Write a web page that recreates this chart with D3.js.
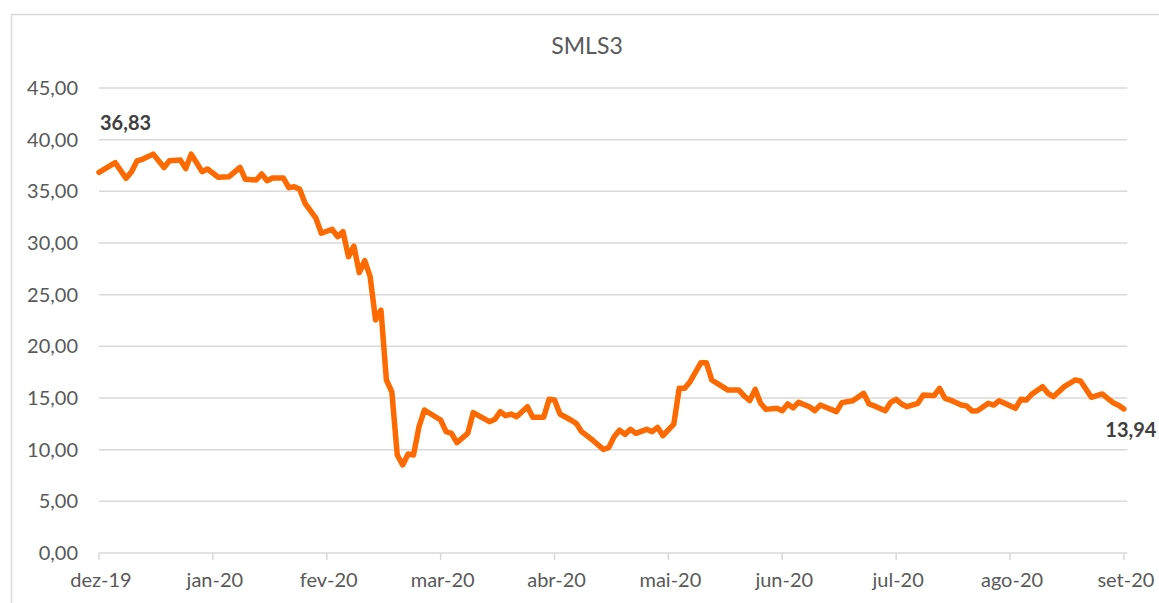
<!DOCTYPE html>
<html>
<head>
<meta charset="utf-8">
<script src="https://cdn.jsdelivr.net/npm/d3@7"></script>
<style>
  body { margin: 0; background: #fff; }
  text { font-family: Lato, "Open Sans", sans-serif; }
</style>
</head>
<body>
<div id="chart"></div>
<script>
// Chart data
const title = "SMLS3";
const monthLabels = ["dez-19", "jan-20", "fev-20", "mar-20", "abr-20", "mai-20", "jun-20", "jul-20", "ago-20", "set-20"];
const daysPerTick = 21;
const yTicks = [0, 5, 10, 15, 20, 25, 30, 35, 40, 45];

// trading day index and closing price
const tradingDay = [
    0, 3, 5, 6, 7, 8, 10, 12, 13, 15, 16, 17, 18, 19, 20, 22, 24, 26, 27, 29,
    30, 31, 32, 34, 35, 36, 37, 38, 40, 41, 43, 44, 45, 46, 47, 48, 49, 50, 51, 52,
    53, 54, 55, 56, 57, 58, 59, 60, 63, 64, 65, 66, 68, 69, 72, 73, 74, 75, 76, 77,
    79, 80, 82, 83, 84, 85, 87, 88, 89, 91, 93, 94, 95, 96, 97, 98, 99, 101, 102, 103,
    104, 106, 107, 108, 109, 111, 112, 113, 114, 116, 118, 119, 120, 121, 122, 123, 125, 126, 127, 128,
    129, 131, 132, 133, 136, 137, 139, 141, 142, 143, 145, 146, 147, 148, 149, 151, 152, 154, 155, 156,
    157, 159, 160, 161, 162, 164, 165, 166, 169, 170, 171, 172, 174, 175, 176, 178, 180, 181, 183, 185,
    186, 187, 188, 189
];
const price = [
    36.83, 37.77, 36.26, 36.90, 37.94, 38.10, 38.60, 37.30, 37.97, 38.03, 37.20, 38.60, 37.77, 36.90, 37.16, 36.36, 36.42, 37.32, 36.16, 36.10,
    36.68, 36.03, 36.29, 36.29, 35.36, 35.45, 35.20, 33.84, 32.40, 30.94, 31.33, 30.61, 31.10, 28.68, 29.70, 27.13, 28.30, 26.74, 22.55, 23.50,
    16.74, 15.60, 9.48, 8.52, 9.58, 9.48, 12.20, 13.84, 12.87, 11.74, 11.58, 10.68, 11.58, 13.58, 12.71, 12.94, 13.68, 13.29, 13.45, 13.19,
    14.16, 13.13, 13.13, 14.87, 14.80, 13.45, 12.87, 12.55, 11.74, 10.94, 10.03, 10.20, 11.26, 11.90, 11.48, 11.97, 11.58, 11.97, 11.74, 12.16,
    11.35, 12.48, 15.94, 15.94, 16.58, 18.42, 18.42, 16.74, 16.42, 15.77, 15.77, 15.19, 14.74, 15.84, 14.49, 13.90, 14.00, 13.77, 14.42, 14.05,
    14.58, 14.16, 13.77, 14.32, 13.68, 14.55, 14.74, 15.45, 14.42, 14.23, 13.77, 14.58, 14.87, 14.42, 14.16, 14.49, 15.29, 15.23, 15.94, 14.97,
    14.80, 14.32, 14.23, 13.74, 13.77, 14.49, 14.32, 14.74, 14.00, 14.87, 14.80, 15.36, 16.10, 15.45, 15.13, 16.10, 16.74, 16.65, 15.07, 15.39,
    14.97, 14.55, 14.30, 13.94
];

const width = 1159, height = 603;
const margin = { top: 88, right: 31.7, bottom: 50, left: 99 };
const lastDay = daysPerTick * (monthLabels.length - 1);

const ptBR = d3.formatLocale({ decimal: ",", thousands: ".", grouping: [3], currency: ["R$", ""] });
const fmt = ptBR.format(".2f");

const svg = d3.select("#chart").append("svg")
    .attr("width", width)
    .attr("height", height);

// chart frame (only top and left edges are inside the picture)
svg.append("rect")
    .attr("x", 11.5).attr("y", 14.5)
    .attr("width", width + 20).attr("height", height + 20)
    .attr("fill", "none")
    .attr("stroke", "#d9d9d9")
    .attr("stroke-width", 1.5);

const x = d3.scaleLinear()
    .domain([0, lastDay])
    .range([margin.left, width - margin.right - 3.4]);

const y = d3.scaleLinear()
    .domain([0, 45])
    .range([height - margin.bottom, margin.top]);

const gridRight = width - margin.right;

// horizontal gridlines
svg.append("g")
    .selectAll("line")
    .data(yTicks.slice(1))
    .enter().append("line")
    .attr("x1", margin.left).attr("x2", gridRight)
    .attr("y1", d => y(d)).attr("y2", d => y(d))
    .attr("stroke", "#d9d9d9")
    .attr("stroke-width", 1.5);

// y labels
svg.append("g")
    .selectAll("text")
    .data(yTicks)
    .enter().append("text")
    .attr("x", 78)
    .attr("y", d => y(d))
    .attr("dy", "0.35em")
    .attr("text-anchor", "end")
    .attr("font-size", 20)
    .attr("fill", "#595959")
    .text(d => fmt(d));

// x axis line + ticks
const xAxis = svg.append("g");
xAxis.append("line")
    .attr("x1", margin.left).attr("x2", gridRight)
    .attr("y1", y(0)).attr("y2", y(0))
    .attr("stroke", "#d9d9d9")
    .attr("stroke-width", 1.5);

const tickDays = monthLabels.map((m, i) => i * daysPerTick);

xAxis.selectAll(".tick")
    .data(tickDays)
    .enter().append("line")
    .attr("class", "tick")
    .attr("x1", d => x(d)).attr("x2", d => x(d))
    .attr("y1", y(0)).attr("y2", y(0) + 7)
    .attr("stroke", "#d9d9d9")
    .attr("stroke-width", 1.5);

xAxis.selectAll(".label")
    .data(monthLabels)
    .enter().append("text")
    .attr("class", "label")
    .attr("x", (d, i) => x(tickDays[i]) + 2)
    .attr("y", y(0) + 34)
    .attr("text-anchor", "middle")
    .attr("font-size", 20)
    .attr("fill", "#595959")
    .text(d => d);

// title
svg.append("text")
    .attr("x", 587)
    .attr("y", 54)
    .attr("text-anchor", "middle")
    .attr("font-size", 23)
    .attr("fill", "#595959")
    .text(title);

// price line
const points = tradingDay.map((d, i) => [d, price[i]]);

const line = d3.line()
    .x(d => x(d[0]))
    .y(d => y(d[1]));

svg.append("path")
    .datum(points)
    .attr("d", line)
    .attr("fill", "none")
    .attr("stroke", "#ff6a00")
    .attr("stroke-width", 5.5)
    .attr("stroke-linejoin", "round")
    .attr("stroke-linecap", "round");

// first / last value labels
const first = points[0];
const last = points[points.length - 1];

svg.append("text")
    .attr("x", x(first[0]) + 1)
    .attr("y", y(first[1]) - 42)
    .attr("font-size", 20)
    .attr("font-weight", "bold")
    .attr("fill", "#404040")
    .text(fmt(first[1]));

svg.append("text")
    .attr("x", x(last[0]) + 7)
    .attr("y", y(last[1]) + 28)
    .attr("text-anchor", "middle")
    .attr("font-size", 20)
    .attr("font-weight", "bold")
    .attr("fill", "#404040")
    .text(fmt(last[1]));
</script>
</body>
</html>
